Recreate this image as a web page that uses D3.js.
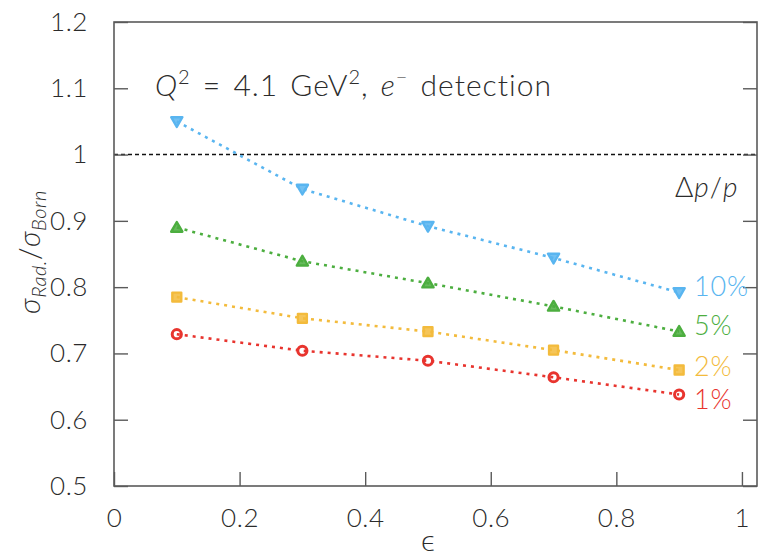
<!DOCTYPE html>
<html>
<head>
<meta charset="utf-8">
<script src="https://cdn.jsdelivr.net/npm/d3@7"></script>
<style>
  html, body { margin: 0; padding: 0; background: #fff; }
  svg { display: block; }
  text { font-family: Lato, "Open Sans", "DejaVu Sans", sans-serif; font-weight: 300; fill: #2b2b2b; }
</style>
</head>
<body>
<svg id="chart" width="759" height="558"></svg>
<script>
// epsilon values shared by every series
const epsilon = [0.1, 0.3, 0.5, 0.7, 0.9];

// sigma_Rad / sigma_Born for each momentum resolution cut
const ratio1  = [0.729, 0.704, 0.689, 0.664, 0.638];
const ratio2  = [0.785, 0.753, 0.733, 0.705, 0.675];
const ratio5  = [0.890, 0.839, 0.806, 0.771, 0.733];
const ratio10 = [1.050, 0.948, 0.892, 0.844, 0.792];

const seriesLabels = ["1%", "2%", "5%", "10%"];
// vertical anchor (in ratio units) of each series label at the right edge
const labelAnchor = [0.616, 0.666, 0.728, 0.787];
const seriesColors = ["#e8342e", "#f3bb3c", "#4cae3f", "#59b5f0"];
const seriesMarkers = ["circle", "square", "triangleUp", "triangleDown"];

const xTicks = [0, 0.2, 0.4, 0.6, 0.8, 1];
const yTicks = [0.5, 0.6, 0.7, 0.8, 0.9, 1, 1.1, 1.2];
const referenceLevel = 1;

const svg = d3.select("#chart");
const plotLeft = 114, plotRight = 757, plotTop = 22, plotBottom = 486;

const x = d3.scaleLinear().domain([0, 1.024]).range([plotLeft, plotRight]);
const y = d3.scaleLinear().domain([0.5, 1.2]).range([plotBottom, plotTop]);

const frameColor = "#5a5a5a";

// reference line at unity
svg.append("line")
  .attr("x1", plotLeft).attr("x2", plotRight)
  .attr("y1", y(referenceLevel)).attr("y2", y(referenceLevel))
  .attr("stroke", "#111").attr("stroke-width", 1.6)
  .attr("stroke-dasharray", "4,3");

// axes with inward ticks; y ticks mirrored on the right side
const tickFmt = d => d3.format("")(+d.toFixed(1));
svg.append("g").attr("transform", `translate(0,${plotBottom})`)
  .call(d3.axisBottom(x).tickValues(xTicks).tickSize(-14).tickPadding(23).tickFormat(tickFmt))
  .call(g => g.select(".domain").remove());
svg.append("g").attr("transform", `translate(${plotLeft},0)`)
  .call(d3.axisLeft(y).tickValues(yTicks).tickSize(-14).tickPadding(26).tickFormat(tickFmt))
  .call(g => g.select(".domain").remove());
svg.append("g").attr("transform", `translate(${plotRight},0)`)
  .call(d3.axisRight(y).tickValues(yTicks).tickSize(-14).tickFormat(""))
  .call(g => g.select(".domain").remove());

svg.selectAll(".tick line").attr("stroke", frameColor).attr("stroke-width", 1.4);
svg.selectAll(".tick text")
  .attr("font-size", 26).attr("fill", "#2b2b2b")
  .style("letter-spacing", "0.6px")
  .style("font-family", "Lato, 'Open Sans', sans-serif").style("font-weight", 300);

// frame
svg.append("rect")
  .attr("x", plotLeft).attr("y", plotTop)
  .attr("width", plotRight - plotLeft).attr("height", plotBottom - plotTop)
  .attr("fill", "none").attr("stroke", frameColor).attr("stroke-width", 1.6);

// series
const allSeries = [ratio1, ratio2, ratio5, ratio10];
const line = d3.line().x((d, i) => x(epsilon[i])).y(d => y(d));

const symbolFor = {
  circle: d3.symbol().type(d3.symbolCircle).size(66),
  square: d3.symbol().type(d3.symbolSquare).size(80),
  triangleUp: d3.symbol().type(d3.symbolTriangle).size(54),
  triangleDown: d3.symbol().type(d3.symbolTriangle).size(54)
};

allSeries.forEach((vals, s) => {
  const color = seriesColors[s];
  svg.append("path")
    .datum(vals)
    .attr("d", line)
    .attr("fill", "none")
    .attr("stroke", color)
    .attr("stroke-width", 2.6)
    .attr("stroke-dasharray", "3,5");

  const kind = seriesMarkers[s];
  svg.append("g").selectAll("path")
    .data(vals)
    .join("path")
    .attr("d", symbolFor[kind]())
    .attr("transform", (d, i) => {
      const rot = kind === "triangleDown" ? " rotate(180)" : "";
      const dy = kind === "triangleDown" ? -1 : (kind === "triangleUp" ? 1 : 0);
      return `translate(${x(epsilon[i])},${y(d) + dy})${rot}`;
    })
    .attr("fill", color)
    .attr("fill-opacity", kind === "circle" ? 0 : 0.85)
    .attr("stroke", color)
    .attr("stroke-width", kind === "circle" ? 3 : 2.4)
    .attr("stroke-linejoin", "round");

  // end-of-line label
  svg.append("text")
    .attr("x", 694)
    .attr("y", y(labelAnchor[s]))
    .attr("font-size", 27)
    .style("letter-spacing", "0.8px")
    .style("fill", color)
    .text(seriesLabels[s]);
});

// legend heading
const head = svg.append("text").attr("x", 675).attr("y", 197)
  .attr("font-size", 28).style("letter-spacing", "1px");
head.append("tspan").text("\u0394");
head.append("tspan").attr("font-style", "italic").text("p");
head.append("tspan").text("/");
head.append("tspan").attr("font-style", "italic").text("p");

// title
const title = svg.append("text").attr("x", 155).attr("y", 96)
  .attr("font-size", 30)
  .style("letter-spacing", "1px").style("word-spacing", "3px");
title.append("tspan").attr("font-style", "italic").text("Q");
title.append("tspan").attr("font-size", 20).attr("dy", -12).text("2");
title.append("tspan").attr("dy", 12).text(" = 4.1 GeV");
title.append("tspan").attr("font-size", 20).attr("dy", -12).text("2");
title.append("tspan").attr("dy", 12).text(", ");
title.append("tspan").attr("font-style", "italic").text("e");
title.append("tspan").attr("font-size", 20).attr("dy", -12).text("\u2212");
title.append("tspan").attr("dy", 12).text("  detection");

// x axis title
svg.append("text")
  .attr("x", x(0.5)).attr("y", 551)
  .attr("text-anchor", "middle").attr("font-size", 30)
  .text("\u03f5");

// y axis title
const yt = svg.append("text")
  .attr("transform", "translate(40,252) rotate(-90)")
  .attr("text-anchor", "middle").attr("font-size", 29)
  .style("letter-spacing", "0.5px");
yt.append("tspan").attr("font-style", "italic").text("\u03c3");
yt.append("tspan").attr("font-style", "italic").attr("font-size", 20).attr("dy", 6).text("Rad.");
yt.append("tspan").attr("dy", -6).text("/");
yt.append("tspan").attr("font-style", "italic").text("\u03c3");
yt.append("tspan").attr("font-style", "italic").attr("font-size", 20).attr("dy", 6).text("Born");
</script>
</body>
</html>
